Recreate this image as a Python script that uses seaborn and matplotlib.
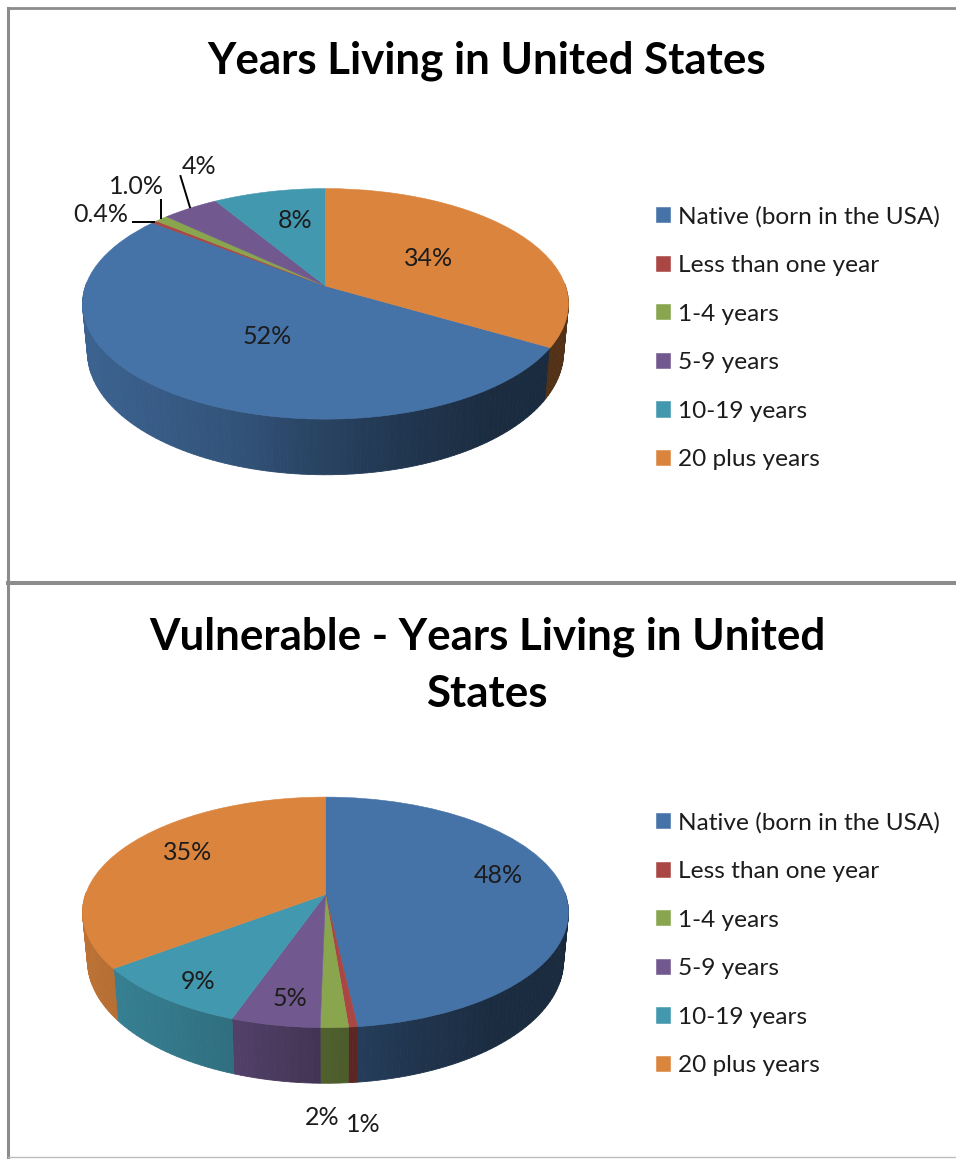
#!/usr/bin/env python3
"""Two 3D-look pie charts: years living in the United States."""

import matplotlib

matplotlib.use("Agg")

import matplotlib.pyplot as plt
import matplotlib.transforms as mtransforms
import numpy as np
import seaborn as sns

# ── Data ──────────────────────────────────────────────────────────────────

CATEGORIES = [
    "Native (born in the USA)",
    "Less than one year",
    "1-4 years",
    "5-9 years",
    "10-19 years",
    "20 plus years",
]
# slice sizes, the printed labels are rounded
ALL_VALUES = [52.2, 0.4, 1.0, 4.4, 8.7, 33.5]
ALL_LABELS = ["52%", "0.4%", "1.0%", "4%", "8%", "34%"]
VULNERABLE_VALUES = [48.2, 0.5, 1.6, 5.1, 9.4, 35.2]
VULNERABLE_LABELS = ["48%", "1%", "2%", "5%", "9%", "35%"]

TITLE_ALL = "Years Living in United States"
TITLE_VULNERABLE = "Vulnerable - Years Living in United\nStates"

COLORS = ["#4572A7", "#AA4643", "#89A54E", "#71588F", "#4198AF", "#DB843D"]

# ── Layout (pixels of the 956x1159 picture) ───────────────────────────────

WIDTH, HEIGHT = 956, 1159
CENTER_X = 325.5
RADIUS_X = 240.0
RADIUS_Y = 112.5
TILT = 0.155
DEPTH = 47.0
FRAME = "#8c8c8c"
TEXT = "#1c1c1c"

ALL_LABEL_XY = [(267, 337), (101, 215), (136, 186), (199, 167), (295, 220), (429, 258)]
VULNERABLE_LABEL_XY = [(498, 876), (363, 1125), (322, 1118), (290, 999), (198, 982), (188, 853)]
# leader line offsets from the rim of the small slices
ALL_LEADERS = {1: (-23, 0), 2: (0, -20), 3: (-10, -33)}

# side shading against horizontal position on the pie
SHADE_U = [-1.0, -0.6, -0.3, 0.0, 0.3, 0.6, 1.0]
SHADE_V = [0.87, 0.80, 0.72, 0.58, 0.47, 0.39, 0.37]


class PieProjection(mtransforms.Transform):
    """Perspective view of the unit circle, output in picture pixels."""

    input_dims = 2
    output_dims = 2
    is_separable = False
    has_inverse = False

    def __init__(self, center_y):
        super().__init__()
        self.center_y = center_y

    def transform_non_affine(self, values):
        values = np.asarray(values, dtype=float)
        w = 1.0 / (1.0 + TILT * values[:, 1])
        x = CENTER_X + RADIUS_X * values[:, 0] * w
        y = self.center_y - RADIUS_Y * values[:, 1] * w
        return np.column_stack([x, y])


def draw_sides(ax, wedges, projection):
    """Draw the front rim of each slice as thin shaded strips."""
    for wedge in wedges:
        n_steps = max(2, int(abs(wedge.theta2 - wedge.theta1) / 1.5))
        angles = np.radians(np.linspace(wedge.theta1, wedge.theta2, n_steps + 1))
        unit = np.column_stack([np.cos(angles), np.sin(angles)])
        top = projection.transform(unit)
        w = 1.0 / (1.0 + TILT * unit[:, 1])
        bottom = np.column_stack(
            [CENTER_X + 0.98 * (top[:, 0] - CENTER_X), top[:, 1] + DEPTH * w]
        )
        base = np.array(matplotlib.colors.to_rgb(wedge.get_facecolor()))
        for i in range(n_steps):
            # the back half sits behind the top face
            if (unit[i, 1] + unit[i + 1, 1]) / 2 > 0.02:
                continue
            u_mid = (unit[i, 0] + unit[i + 1, 0]) / 2
            color = base * np.interp(u_mid, SHADE_U, SHADE_V)
            ax.fill(
                [top[i, 0], top[i + 1, 0], bottom[i + 1, 0], bottom[i, 0]],
                [top[i, 1], top[i + 1, 1], bottom[i + 1, 1], bottom[i, 1]],
                facecolor=color,
                edgecolor=color,
                linewidth=0.6,
                zorder=1,
            )


def draw_panel(ax, values, labels, label_xy, title, title_y, center_y, start, ylim, legend_top):
    palette = sns.color_palette(COLORS)
    wedges, _ = ax.pie(
        values,
        colors=palette,
        startangle=start,
        counterclock=False,
    )
    projection = PieProjection(center_y)
    ax.set_aspect("auto")
    ax.set_xlim(7.5, WIDTH)
    ax.set_ylim(*ylim)
    ax.set_frame_on(True)

    for wedge in wedges:
        wedge.set_edgecolor(wedge.get_facecolor())
        wedge.set_linewidth(0.4)
        wedge.set_transform(projection + ax.transData)
        wedge.set_zorder(2)
    draw_sides(ax, wedges, projection)

    for text, (x, y) in zip(labels, label_xy):
        ax.text(x, y, text, ha="center", va="center", fontsize=18, color=TEXT, zorder=4)

    ax.text(
        487, title_y, title, ha="center", va="center", fontsize=31.6,
        fontweight="bold", color="black", linespacing=1.53,
    )

    ax.legend(
        wedges,
        CATEGORIES,
        loc="upper left",
        bbox_to_anchor=(656, legend_top),
        bbox_transform=ax.transData,
        frameon=False,
        fontsize=17.6,
        labelspacing=1.126,
        handlelength=0.57,
        handleheight=0.57,
        handletextpad=0.33,
        borderpad=0,
        borderaxespad=0,
        labelcolor=TEXT,
    )
    return wedges, projection


def main():
    sns.set_theme(style="white")
    plt.rcParams["font.family"] = ["Lato", "DejaVu Sans"]

    fig = plt.figure(figsize=(WIDTH / 100, HEIGHT / 100), dpi=100, facecolor="white")

    def panel(top, bottom):
        return fig.add_axes(
            [7.5 / WIDTH, 1 - bottom / HEIGHT, (WIDTH - 7.5) / WIDTH, (bottom - top) / HEIGHT]
        )

    ax_all = panel(8, 583)
    ax_vul = panel(583, 1157)

    # native slice ends at 12 o'clock in the first chart, starts there in the second
    wedges_all, proj_all = draw_panel(
        ax_all, ALL_VALUES, ALL_LABELS, ALL_LABEL_XY, TITLE_ALL, 61, 286.0,
        90 - ALL_VALUES[-1] / sum(ALL_VALUES) * 360, (583, 8), 206,
    )
    draw_panel(
        ax_vul, VULNERABLE_VALUES, VULNERABLE_LABELS, VULNERABLE_LABEL_XY,
        TITLE_VULNERABLE, 665.5, 894.5, 90, (1157, 583), 812,
    )

    for idx, (dx, dy) in ALL_LEADERS.items():
        wedge = wedges_all[idx]
        mid = np.radians((wedge.theta1 + wedge.theta2) / 2)
        rim = proj_all.transform(np.array([[np.cos(mid), np.sin(mid)]]))[0]
        ax_all.plot(
            [rim[0], rim[0] + dx], [rim[1], rim[1] + dy],
            color="black", linewidth=1.4, solid_capstyle="butt", zorder=3,
        )

    for ax in (ax_all, ax_vul):
        ax.spines["right"].set_visible(False)
        ax.spines["left"].set(color=FRAME, linewidth=2.2)
    ax_all.spines["top"].set(color=FRAME, linewidth=2.0)
    ax_all.spines["bottom"].set_visible(False)
    ax_vul.spines["top"].set(color=FRAME, linewidth=2.9)
    ax_vul.spines["bottom"].set(color="#bdbdbd", linewidth=1.0)

    fig.savefig("out.png", dpi=100)
    plt.close(fig)


if __name__ == "__main__":
    main()
